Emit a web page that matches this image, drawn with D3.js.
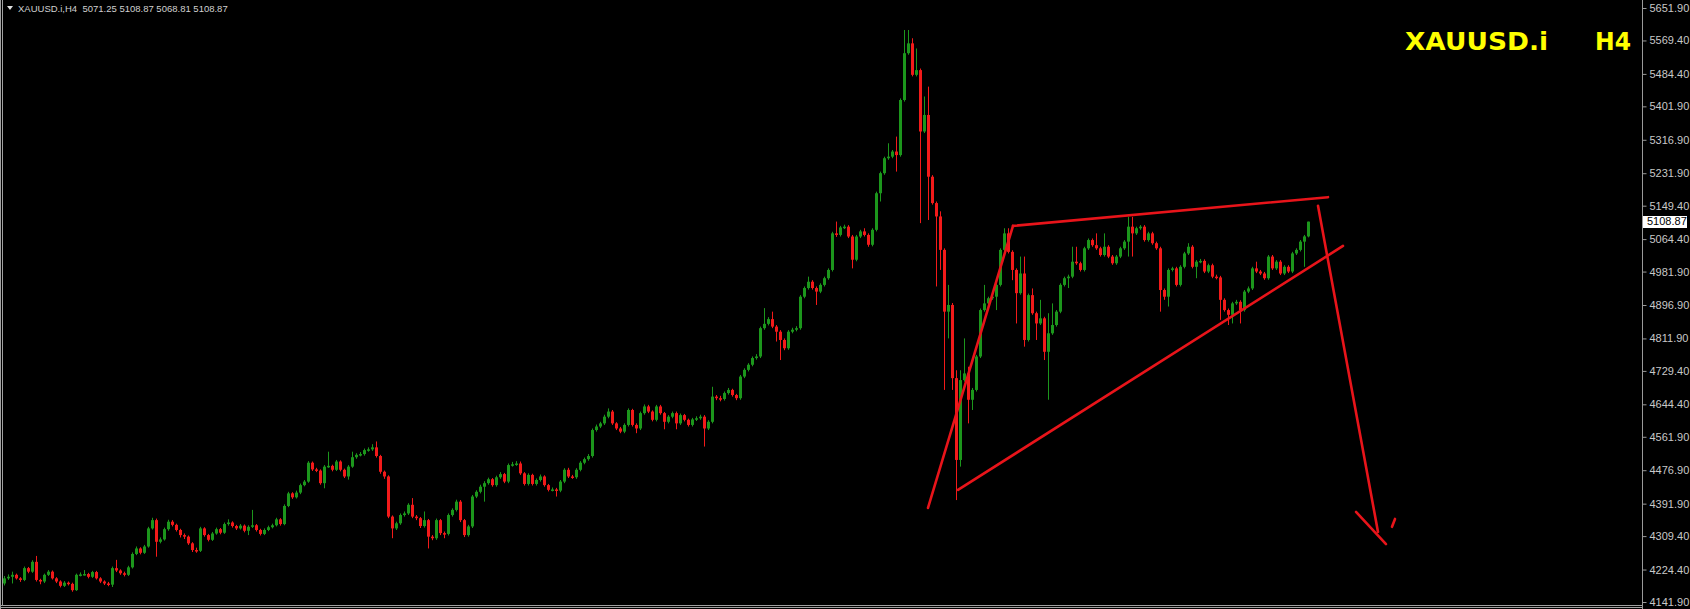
<!DOCTYPE html>
<html>
<head>
<meta charset="utf-8">
<script src="https://cdn.jsdelivr.net/npm/d3@7"></script>
<style>
  html, body { margin: 0; padding: 0; background: #000; }
  svg { display: block; }
  .axis text { fill: #c8c8c8; font-family: "Liberation Sans", Arial, sans-serif; font-size: 11px; }
  .axis line, .axis path { stroke: #9a9a9a; }
</style>
</head>
<body>
<div id="chart"></div>
<script>
// ---- data (H4 candles, open = previous close) ----
const firstOpen = 4189;
const closes = [
  4202, 4206, 4211, 4202, 4198, 4228, 4219, 4244, 4198, 4194, 4211, 4219, 4202, 4194, 4183, 4191, 4188, 4172, 4211, 4212,
  4213, 4206, 4218, 4202, 4194, 4189, 4186, 4228, 4222, 4215, 4211, 4230, 4264, 4278, 4267, 4283, 4329, 4350, 4295, 4301,
  4327, 4346, 4338, 4325, 4312, 4308, 4291, 4274, 4272, 4329, 4312, 4300, 4316, 4327, 4318, 4340, 4344, 4335, 4329, 4336,
  4323, 4333, 4337, 4325, 4315, 4325, 4332, 4337, 4352, 4340, 4386, 4418, 4408, 4420, 4439, 4448, 4496, 4479, 4476, 4444,
  4486, 4488, 4478, 4499, 4478, 4461, 4486, 4510, 4516, 4518, 4528, 4530, 4535, 4513, 4473, 4461, 4359, 4329, 4342, 4363,
  4367, 4389, 4359, 4355, 4335, 4350, 4308, 4304, 4350, 4317, 4315, 4363, 4376, 4397, 4350, 4312, 4334, 4410, 4422, 4435,
  4444, 4454, 4439, 4459, 4467, 4448, 4490, 4492, 4494, 4469, 4442, 4465, 4442, 4452, 4461, 4439, 4427, 4428, 4425, 4448,
  4478, 4461, 4459, 4478, 4496, 4505, 4513, 4579, 4588, 4596, 4613, 4626, 4596, 4583, 4575, 4592, 4630, 4592, 4583, 4622,
  4639, 4626, 4605, 4639, 4622, 4600, 4613, 4622, 4596, 4617, 4605, 4592, 4606, 4609, 4613, 4583, 4600, 4664, 4660, 4658,
  4673, 4681, 4668, 4660, 4715, 4732, 4745, 4762, 4766, 4838, 4849, 4861, 4842, 4829, 4808, 4787, 4829, 4834, 4838, 4918,
  4940, 4956, 4940, 4931, 4948, 4965, 4986, 5079, 5075, 5094, 5096, 5071, 5012, 5071, 5084, 5075, 5050, 5088, 5181, 5232,
  5270, 5274, 5287, 5278, 5418, 5537, 5562, 5482, 5494, 5338, 5380, 5223, 5156, 5122, 5037, 4880, 4897, 4711, 4503, 4706,
  4723, 4656, 4681, 4766, 4884, 4901, 4914, 4918, 4948, 5037, 5079, 5032, 4986, 4927, 4977, 4808, 4922, 4876, 4850, 4863,
  4778, 4825, 4846, 4880, 4948, 4965, 4969, 5007, 5003, 4986, 5041, 5062, 5049, 5041, 5024, 5045, 5020, 5003, 5020, 5041,
  5058, 5096, 5079, 5092, 5096, 5062, 5079, 5054, 5041, 4935, 4918, 4986, 4990, 4948, 4994, 5028, 5045, 4994, 5007, 5009,
  4982, 4998, 4969, 4967, 4910, 4884, 4872, 4901, 4905, 4884, 4931, 4939, 4990, 4982, 4977, 4965, 5020, 4990, 5007, 4977,
  4994, 4982, 5028, 5037, 5058, 5071.25, 5108.87
];
const highs = [
  4208, 4212, 4219, 4214, 4205, 4232, 4231, 4248, 4259, 4201, 4214, 4223, 4222, 4205, 4197, 4195, 4194, 4191, 4214, 4217,
  4223, 4216, 4221, 4221, 4205, 4197, 4193, 4232, 4249, 4225, 4219, 4234, 4268, 4283, 4281, 4287, 4333, 4356, 4354, 4306,
  4331, 4351, 4350, 4341, 4328, 4316, 4311, 4294, 4280, 4333, 4332, 4315, 4320, 4331, 4330, 4344, 4352, 4347, 4338, 4340,
  4339, 4337, 4376, 4340, 4328, 4329, 4336, 4341, 4356, 4355, 4390, 4422, 4421, 4425, 4443, 4452, 4500, 4499, 4483, 4479,
  4490, 4524, 4491, 4503, 4502, 4481, 4490, 4524, 4520, 4523, 4532, 4535, 4543, 4550, 4516, 4476, 4464, 4362, 4346, 4367,
  4372, 4393, 4406, 4363, 4358, 4372, 4353, 4312, 4354, 4353, 4321, 4367, 4380, 4402, 4401, 4353, 4338, 4414, 4426, 4440,
  4449, 4458, 4457, 4463, 4472, 4470, 4494, 4498, 4500, 4499, 4472, 4469, 4468, 4456, 4466, 4464, 4442, 4433, 4432, 4452,
  4482, 4483, 4465, 4482, 4500, 4509, 4518, 4583, 4593, 4600, 4618, 4634, 4630, 4599, 4587, 4596, 4634, 4633, 4596, 4626,
  4644, 4643, 4629, 4643, 4643, 4625, 4617, 4626, 4626, 4621, 4620, 4608, 4610, 4614, 4618, 4617, 4604, 4689, 4668, 4666,
  4677, 4686, 4684, 4671, 4719, 4736, 4749, 4766, 4772, 4842, 4889, 4866, 4880, 4846, 4833, 4812, 4833, 4839, 4843, 4922,
  4944, 4969, 4960, 4944, 4952, 4969, 4990, 5083, 5109, 5098, 5101, 5100, 5075, 5075, 5088, 5092, 5079, 5092, 5185, 5236,
  5274, 5308, 5291, 5325, 5422, 5596, 5596, 5575, 5549, 5498, 5427, 5452, 5227, 5160, 5135, 5041, 4948, 4902, 4731, 4731,
  4812, 4740, 4686, 4770, 4888, 4948, 4918, 4923, 4952, 5041, 5092, 5092, 5036, 4990, 5020, 5020, 4926, 4939, 4880, 4910,
  4867, 4876, 4901, 4884, 4952, 4969, 4974, 5045, 5045, 5007, 5045, 5066, 5066, 5079, 5045, 5079, 5049, 5024, 5024, 5045,
  5062, 5121, 5121, 5096, 5100, 5100, 5083, 5083, 5058, 5045, 4939, 4990, 4994, 4994, 4998, 5032, 5054, 5049, 5011, 5014,
  5013, 5002, 5002, 4974, 4971, 4914, 4888, 4905, 4910, 4909, 4935, 4944, 4994, 5007, 4986, 4981, 5024, 5024, 5011, 5011,
  4998, 4998, 5032, 5041, 5062, 5075, 5108.87
];
const lows = [
  4184, 4198, 4189, 4199, 4193, 4195, 4215, 4216, 4194, 4187, 4190, 4208, 4199, 4190, 4179, 4180, 4184, 4168, 4170, 4207,
  4209, 4202, 4203, 4199, 4190, 4185, 4182, 4180, 4218, 4211, 4207, 4208, 4227, 4261, 4263, 4264, 4280, 4326, 4257, 4291,
  4298, 4323, 4334, 4321, 4306, 4302, 4287, 4269, 4267, 4269, 4308, 4296, 4297, 4313, 4314, 4315, 4336, 4331, 4325, 4326,
  4319, 4312, 4330, 4321, 4311, 4312, 4322, 4329, 4334, 4336, 4337, 4383, 4404, 4405, 4416, 4436, 4445, 4475, 4472, 4440,
  4431, 4483, 4474, 4475, 4474, 4457, 4453, 4483, 4506, 4512, 4514, 4524, 4526, 4509, 4468, 4455, 4355, 4304, 4325, 4338,
  4359, 4363, 4355, 4350, 4330, 4331, 4278, 4299, 4300, 4312, 4304, 4311, 4359, 4372, 4345, 4307, 4308, 4330, 4406, 4418,
  4397, 4440, 4435, 4435, 4455, 4444, 4444, 4486, 4488, 4465, 4438, 4438, 4438, 4438, 4448, 4435, 4423, 4423, 4410, 4421,
  4444, 4457, 4455, 4455, 4474, 4492, 4501, 4509, 4575, 4584, 4592, 4609, 4592, 4579, 4571, 4571, 4588, 4588, 4571, 4579,
  4618, 4622, 4601, 4601, 4618, 4581, 4596, 4609, 4581, 4592, 4601, 4588, 4588, 4602, 4605, 4537, 4579, 4596, 4655, 4652,
  4654, 4669, 4664, 4655, 4656, 4711, 4728, 4741, 4758, 4762, 4834, 4845, 4838, 4804, 4757, 4782, 4783, 4825, 4830, 4834,
  4914, 4936, 4936, 4897, 4927, 4944, 4961, 4982, 5070, 5071, 5090, 5067, 4990, 5008, 5067, 5071, 5045, 5046, 5084, 5160,
  5228, 5266, 5270, 5236, 5274, 5414, 5533, 5478, 5478, 5105, 5334, 5113, 5152, 4944, 4986, 4681, 4812, 4681, 4401, 4486,
  4702, 4596, 4630, 4677, 4762, 4880, 4897, 4910, 4884, 4944, 5033, 5028, 4960, 4850, 4923, 4791, 4804, 4872, 4808, 4846,
  4757, 4656, 4821, 4842, 4876, 4944, 4940, 4965, 4999, 4982, 4982, 5037, 5045, 5037, 5020, 5020, 5016, 4999, 4999, 5016,
  5037, 5020, 5020, 5075, 5088, 5058, 5058, 5050, 5037, 4880, 4910, 4893, 4982, 4944, 4944, 4990, 5024, 4990, 4965, 5003,
  4978, 4978, 4965, 4962, 4859, 4880, 4846, 4850, 4897, 4850, 4880, 4927, 4935, 4978, 4973, 4961, 4961, 4986, 4986, 4973,
  4973, 4978, 4978, 5024, 5033, 4994, 5068.81
];
const priceTicks = [5651.90, 5569.40, 5484.40, 5401.90, 5316.90, 5231.90, 5149.40, 5064.40, 4981.90, 4896.90,
  4811.90, 4729.40, 4644.40, 4561.90, 4476.90, 4391.90, 4309.40, 4224.40, 4141.90];
// hand-drawn analysis lines, as [bar index, price] pairs
const trendLines = [
  [[231, 4381], [252.25, 5098]],
  [[252.25, 5098], [331, 5171]],
  [[238.5, 4427], [334.75, 5047]],
  [[328.5, 5149], [343.5, 4320]],
  [[338, 4371], [345.5, 4289]],
  [[347, 4333], [347.75, 4353]]
];
const symbol = "XAUUSD.i", timeframe = "H4";
const lastBar = { open: 5071.25, high: 5108.87, low: 5068.81, close: 5108.87 };

// ---- layout ----
const width = 1690, height = 609;
const plot = { left: 2, right: 1642, top: 0, bottom: 605 };
const barStep = 4;
const green = "#1c961c", red = "#f21a1a", lineRed = "#e8141a";

const candles = closes.map((c, i) => ({
  i: i,
  open: i === 0 ? firstOpen : closes[i - 1],
  close: c,
  high: highs[i],
  low: lows[i]
}));

const svg = d3.select("#chart").append("svg")
  .attr("width", width)
  .attr("height", height)
  .style("background", "#000");

const x = d3.scaleLinear()
  .domain([0, candles.length - 1])
  .range([4, 4 + barStep * (candles.length - 1)]);
const y = d3.scaleLinear()
  .domain([4141.9, 5651.9])
  .range([602, 8]);

// frame
const frame = svg.append("g").attr("fill", "none").attr("stroke", "#a0a0a0");
frame.append("line").attr("x1", 0.5).attr("x2", 0.5).attr("y1", 0).attr("y2", height);
frame.append("line").attr("x1", 2.5).attr("x2", 2.5).attr("y1", 0).attr("y2", plot.bottom);
frame.append("line").attr("x1", 0).attr("x2", plot.right).attr("y1", plot.bottom + 0.5).attr("y2", plot.bottom + 0.5);
frame.append("line").attr("x1", 0).attr("x2", plot.right).attr("y1", plot.bottom + 2.5).attr("y2", plot.bottom + 2.5);

// candles
const bars = svg.append("g").attr("class", "candles");
bars.selectAll("line.wick")
  .data(candles)
  .join("line")
  .attr("class", "wick")
  .attr("x1", d => Math.round(x(d.i)) + 0.5)
  .attr("x2", d => Math.round(x(d.i)) + 0.5)
  .attr("y1", d => y(d.high))
  .attr("y2", d => y(d.low))
  .attr("stroke", d => d.close >= d.open ? green : red)
  .attr("stroke-width", 1);
bars.selectAll("rect.body")
  .data(candles)
  .join("rect")
  .attr("class", "body")
  .attr("x", d => Math.round(x(d.i)) - 1)
  .attr("width", 3)
  .attr("y", d => y(Math.max(d.open, d.close)))
  .attr("height", d => Math.max(1.5, y(Math.min(d.open, d.close)) - y(Math.max(d.open, d.close))))
  .attr("fill", d => d.close >= d.open ? green : red);

// trend lines
svg.append("g").selectAll("line.trend")
  .data(trendLines)
  .join("line")
  .attr("class", "trend")
  .attr("x1", d => x(d[0][0]))
  .attr("y1", d => y(d[0][1]))
  .attr("x2", d => x(d[1][0]))
  .attr("y2", d => y(d[1][1]))
  .attr("stroke", lineRed)
  .attr("stroke-width", 2.6)
  .attr("stroke-linecap", "round");

// price axis
const yAxis = d3.axisRight(y)
  .tickValues(priceTicks)
  .tickSize(4)
  .tickPadding(3)
  .tickFormat(d3.format(".2f"));
svg.append("g")
  .attr("class", "axis")
  .attr("transform", `translate(${plot.right + 0.5},0)`)
  .call(yAxis)
  .call(g => g.select(".domain").attr("d", `M0,0V${height}`));

// current price marker
const fmt = d3.format(".2f");
const cy = y(lastBar.close);
svg.append("rect")
  .attr("x", plot.right + 1)
  .attr("y", Math.round(cy) - 6)
  .attr("width", 44)
  .attr("height", 12)
  .attr("fill", "#fff");
svg.append("text")
  .attr("x", plot.right + 5)
  .attr("y", cy)
  .attr("dy", "0.35em")
  .attr("fill", "#000")
  .style("font", "11px 'Liberation Sans', Arial, sans-serif")
  .text(fmt(lastBar.close));

// header
svg.append("path")
  .attr("d", "M7,6 L13,6 L10,10 Z")
  .attr("fill", "#e0e0e0");
svg.append("text")
  .attr("x", 18)
  .attr("y", 12)
  .attr("fill", "#d0d0d0")
  .style("font", "9.5px 'Liberation Sans', Arial, sans-serif")
  .attr("xml:space", "preserve")
  .text(`${symbol},${timeframe}  ${fmt(lastBar.open)} ${fmt(lastBar.high)} ${fmt(lastBar.low)} ${fmt(lastBar.close)}`);

// big label
const title = svg.append("g")
  .attr("fill", "#ffff00")
  .style("font", "bold 24px 'DejaVu Sans', sans-serif");
title.append("text").attr("x", 1405).attr("y", 50).attr("textLength", 143).attr("lengthAdjust", "spacingAndGlyphs").text(symbol);
title.append("text").attr("x", 1595).attr("y", 50).attr("textLength", 36).attr("lengthAdjust", "spacingAndGlyphs").text(timeframe);
</script>
</body>
</html>
